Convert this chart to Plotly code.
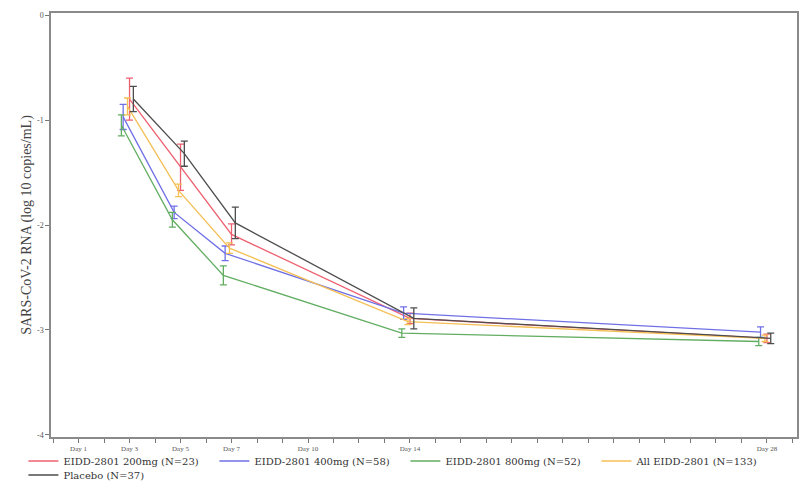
import plotly.graph_objects as go

# Study visit days where viral load was measured
visit_days = [3, 5, 7, 14, 28]

# Mean change from baseline in SARS-CoV-2 RNA (log10 copies/mL) and standard errors
series_names = [
    "EIDD-2801 200mg (N=23)",
    "EIDD-2801 400mg (N=58)",
    "EIDD-2801 800mg (N=52)",
    "All EIDD-2801 (N=133)",
    "Placebo (N=37)",
]
mean_200 = [-0.80, -1.45, -2.09, -2.89, -3.08]
se_200 = [0.20, 0.22, 0.10, 0.05, 0.04]
mean_400 = [-0.97, -1.88, -2.27, -2.84, -3.02]
se_400 = [0.12, 0.06, 0.07, 0.06, 0.05]
mean_800 = [-1.05, -1.95, -2.48, -3.03, -3.11]
se_800 = [0.10, 0.07, 0.09, 0.04, 0.04]
mean_all = [-0.87, -1.67, -2.22, -2.92, -3.08]
se_all = [0.08, 0.06, 0.05, 0.03, 0.03]
mean_pbo = [-0.80, -1.32, -1.98, -2.89, -3.08]
se_pbo = [0.12, 0.12, 0.15, 0.10, 0.05]

# Axis ticks: one per day, labelled on selected visits
tick_days = list(range(0, 30))
labelled_days = {1: "Day 1", 3: "Day 3", 5: "Day 5", 7: "Day 7",
                 10: "Day 10", 14: "Day 14", 28: "Day 28"}
y_ticks = [0, -1, -2, -3, -4]

means = [mean_200, mean_400, mean_800, mean_all, mean_pbo]
errors = [se_200, se_400, se_800, se_all, se_pbo]
colors = ["#ee6070", "#7070e6", "#62ad62", "#f4bf55", "#4d4d4d"]
# small horizontal dodge so the error bars don't overlap
dodge = [0.0, -0.25, -0.32, -0.08, 0.15]
# active arms in the first legend row, placebo on its own row
legend_ids = ["legend", "legend", "legend", "legend", "legend2"]

serif = "Liberation Serif"
legend_font = dict(family="DejaVu Serif", size=10, color="#333333")

fig = go.Figure()
for name, m, e, c, d, lg in zip(series_names, means, errors, colors, dodge, legend_ids):
    fig.add_trace(go.Scatter(
        x=[v + d for v in visit_days],
        y=m,
        name=name,
        mode="lines",
        legend=lg,
        line=dict(color=c, width=1.3),
        error_y=dict(type="data", array=e, visible=True, color=c,
                     thickness=1.3, width=3.5),
    ))

legend_common = dict(
    orientation="h",
    x=-0.037, xanchor="left",
    yanchor="middle",
    entrywidth=146, entrywidthmode="pixels",
    font=legend_font,
    tracegroupgap=0,
    itemwidth=30,
    bgcolor="rgba(0,0,0,0)",
)

fig.update_layout(
    width=801, height=487,
    margin=dict(l=51, r=4, t=13, b=50, autoexpand=False),
    paper_bgcolor="white",
    plot_bgcolor="white",
    font=dict(family=serif, color="#333333"),
    showlegend=True,
    legend=dict(y=-0.0566, **legend_common),
    legend2=dict(y=-0.0896, **legend_common),
    xaxis=dict(
        range=[-0.08, 29.18],
        tickmode="array",
        tickvals=tick_days,
        ticktext=[labelled_days.get(d, "") for d in tick_days],
        ticks="outside", ticklen=4, tickcolor="#777777",
        tickfont=dict(family=serif, size=7, color="#555555"),
        showgrid=False, zeroline=False,
        showline=True, linecolor="#8a8a8a", linewidth=1.5, mirror=True,
    ),
    yaxis=dict(
        range=[-4.02, 0.02],
        tickmode="array",
        tickvals=y_ticks,
        ticktext=[str(v) for v in y_ticks],
        ticks="outside", ticklen=4, tickcolor="#777777",
        tickfont=dict(family=serif, size=8, color="#555555"),
        showgrid=False, zeroline=False,
        showline=True, linecolor="#8a8a8a", linewidth=1.5, mirror=True,
        title=dict(text="SARS-CoV-2 RNA (log 10 copies/mL)",
                   font=dict(family=serif, size=14, color="#444444"),
                   standoff=2),
    ),
)

fig.write_html("out.html")
